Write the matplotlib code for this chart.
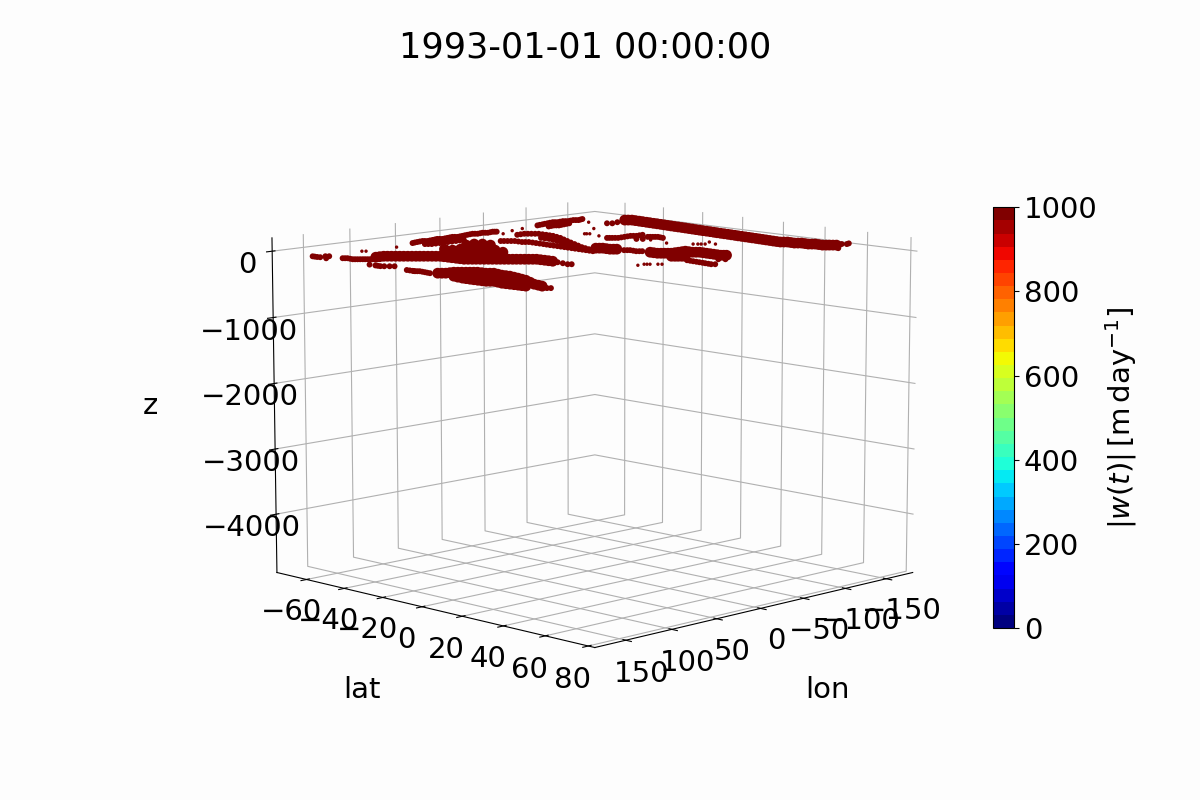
import matplotlib
matplotlib.use("Agg")
import matplotlib.pyplot as plt

# surface patches with |w| above the colour limit, read off the frame
# wide = thick bodies, narrow/streak = thin filaments, speck = isolated floats
wide_lon = [175.1, 170.7, 162.7, 158.3, 153.9, 149.7, 149.0, 144.6, 147.7, 147.1, 150.2, 153.9, 164.2, 167.1,
            177.5, 180.0, 180.0, 179.7, 179.0, 174.8, 177.7, 177.0, 176.2, 175.7,
            148.0, 139.8, 135.4, 130.8, 126.3, 121.7, 117.3, 112.7, 108.2, 107.6, 107.1, 106.7, 102.1, 97.7, 93.1,
            88.6, 84.2, 79.6, 75.2, 70.6, 66.2, 65.7, 65.3,
            62.0, 53.3, 52.9, 52.3, 56.4, 69.5, 74.1, 69.0, 76.5, 67.9, 47.6, 38.6, 33.9, 33.7,
            -158.8, -163.1, -162.3, -161.4, -160.5, -159.8, -158.8, -157.9, -157.4, -156.5, -155.6, -154.8, -154.3,
            -153.2, -152.6, -151.9, -151.0, -150.4, -149.7, -149.0, -148.2, -147.3, -146.8, -151.0, -150.1, -154.3,
            -153.5, -157.6, -156.8, -160.9, -164.9,
            -13.5, -17.6, -17.2, -21.2, -26.9, -26.7, -30.7, -34.6, -43.0, -51.4, -50.9, -54.9, -54.5, -54.2, -53.8,
            -57.1, -21.8, -25.6, -29.6,
            172.9, 166.7, 160.5, 156.1, 151.8, 149.3, 146.8, 146.2, 147.4, 148.7, 152.1, 159.0, 165.6,
            179.0, 180.0, 179.9, 179.4, 176.9, 176.2, 177.4, 176.6, 176.0,
            143.9, 137.6, 133.1, 128.6, 124.0, 119.5, 115.0, 110.5, 107.9, 107.4, 106.9, 104.4, 99.9, 95.4, 90.9,
            86.4, 81.9, 77.4, 72.9, 68.4, 66.0, 65.5,
            -161.0, -162.7, -161.9, -161.0, -160.2, -159.3, -158.4, -157.7, -157.0, -156.1, -155.2, -154.6, -153.8,
            -152.9, -152.3, -151.5, -150.7, -150.1, -149.4, -148.6, -147.8, -147.0, -148.9, -150.6, -152.2, -153.9,
            -155.6, -157.2, -158.9, -162.9,
            -15.6, -17.4, -19.2, -26.8, -28.7, -32.7, -38.8, -47.2, -51.2, -52.9, -54.7, -54.4, -54.0, -55.5, -23.7, -27.6,
            90.0, 85.5, 80.9, 68.1, 63.5, 67.2, 70.8, 77.0]
wide_lat = [5.3, 7.2, 7.4, 9.3, 11.2, 13.0, 16.7, 18.6, 23.9, 27.5, 32.8, 38.2, 46.7, 51.8,
            14.3, 19.7, 23.4, 27.0, 30.7, 32.5, 37.6, 41.1, 44.6, 48.0,
            -38.9, -38.8, -36.9, -34.9, -32.9, -30.9, -29.0, -27.0, -25.0, -21.3, -17.4, -13.6, -11.6, -9.7, -7.7,
            -5.7, -3.8, -1.8, 0.1, 2.1, 4.0, 7.7, 11.5,
            -30.9, -30.9, -27.0, -23.0, -17.2, -19.2, -21.2, -15.3, -33.5, -33.5, -39.9, -40.0, -37.9, -33.9,
            -49.8, -47.9, -43.8, -39.7, -35.7, -31.7, -27.7, -23.8, -19.9, -16.0, -12.1, -8.3, -4.4,
            -0.6, 3.2, 7.0, 10.7, 14.5, 18.1, 21.8, 25.4, 29.2, 32.8, 34.6, 38.2, 40.0,
            43.5, 45.2, 48.9, 50.6, 52.4,
            -1.9, -0.2, 3.5, 5.2, 19.0, 22.6, 24.3, 26.0, 26.0, 25.8, 29.4, 31.2, 34.7, 38.2, 41.7,
            43.1, 31.4, 33.1, 34.8,
            6.3, 7.3, 8.4, 10.3, 12.1, 14.9, 17.7, 21.3, 25.7, 30.2, 35.5, 42.5, 49.3,
            17.0, 21.5, 25.2, 28.9, 31.6, 35.0, 39.4, 42.9, 46.3,
            -38.9, -37.9, -35.9, -33.9, -31.9, -30.0, -28.0, -26.0, -23.2, -19.4, -15.5, -12.6, -10.7, -8.7, -6.7,
            -4.8, -2.8, -0.9, 1.1, 3.1, 5.9, 9.6,
            -48.9, -45.9, -41.8, -37.7, -33.7, -29.7, -25.8, -21.9, -18.0, -14.1, -10.2, -6.4, -2.5,
            1.3, 5.1, 8.9, 12.6, 16.3, 20.0, 23.6, 27.3, 31.0, 33.7, 36.4, 39.1, 41.8,
            44.4, 47.0, 49.8, 51.5,
            -1.0, 1.7, 4.4, 20.8, 23.5, 25.2, 26.0, 25.9, 27.6, 30.3, 33.0, 36.5, 40.0, 42.4, 32.3, 34.0,
            -28.1, -26.2, -24.2, -26.1, -24.1, -18.2, -12.5, -37.4]

narrow_lon = [170.6, 167.8, 168.9, 166.2, 163.2, 160.5, 157.7,
              180.0, 180.0, 180.0, 180.0, 178.2, 175.3, 172.6,
              66.6, 67.7, 69.0, 66.8,
              180.0, 180.0, 180.0, 177.5, 178.4, 179.3, 171.7, 169.6,
              180.0, 180.0, 180.0, 179.2, 172.6, 170.4, 180.0,
              69.9, 62.8, 55.6, 52.7, 45.2, 38.1, 35.1, 27.8, 20.5, 17.6, 10.2, 2.7, -4.9, -7.9, -15.2, -18.3, -26.0, -28.4,
              67.0, 63.0, 54.2, 45.2, 36.2, 27.1,
              -26.5, -35.3, -39.5, -43.7, -43.4, -42.8, -37.9, -28.2, -19.0, -9.9, -5.1,
              -26.7, -26.9, -22.3, -13.9, -5.3,
              10.4, 6.4, 2.2, 2.4, -1.6, -1.3, -1.1, -0.5, -0.4, 0.0, 0.2, 0.5, 0.7, 1.1,
              -81.1, -89.1, -97.0, -105.2, -108.2, -116.4, -119.5, -127.7, -130.8, -138.3,
              -82.9, -90.8, -93.9, -101.9, -110.0,
              -132.7, -135.8, -144.0, -152.4, -172.8, -175.7, -180.0, -151.9,
              -21.0, -24.5, -23.4, -26.9,
              -13.7, -12.8, -12.1, -11.2, -10.4, -12.6, -39.3, -35.3,
              -65.1, -68.1, -71.6, -79.8, -88.0, -91.5, -99.9, -93.5, -96.4, -99.4, -97.7, -77.6, -81.3]
narrow_lat = [-45.0, -43.8, -40.6, -39.4, -38.2, -37.0, -35.8,
              -26.5, -23.5, -22.3, -21.0, -19.9, -18.6, -17.4,
              14.5, 17.5, 20.4, 21.4,
              -7.7, -4.8, -3.6, -2.4, 0.6, 3.5, 56.1, 57.0,
              -56.0, -54.9, -53.6, -52.4, -53.0, -52.1, -48.9,
              -57.4, -58.3, -59.0, -57.7, -58.6, -59.5, -58.2, -59.0, -59.8, -58.5, -59.3, -60.2, -61.0, -59.7, -60.5, -59.1, -60.1, -59.1,
              -52.3, -50.6, -50.6, -50.6, -50.6, -50.7,
              -47.5, -47.8, -46.0, -44.1, -40.1, -36.3, -30.4, -22.6, -14.9, -7.3, -1.7,
              -35.3, -31.2, -25.1, -17.2, -9.3,
              -39.3, -37.6, -35.8, -32.0, -30.3, -26.5, -22.7, -19.0, -15.3, -11.6, -7.9, -4.2, -0.6, 3.0,
              -61.5, -62.4, -63.3, -64.2, -62.9, -63.8, -62.4, -63.3, -61.9, -63.1,
              -56.4, -57.2, -55.9, -56.8, -57.6,
              -47.8, -46.4, -47.3, -48.1, 51.8, 53.1, 52.4, 58.2,
              8.8, 10.3, 13.7, 15.2,
              42.2, 45.5, 48.7, 51.8, 54.9, 55.9, 49.8, 48.1,
              -18.6, -17.3, -15.8, -16.2, -16.6, -15.1, -15.6, -10.3, -9.0, -7.7, -4.5, -9.2, -7.6]

streak_lon = [66.4, 59.2, 54.2, 49.0, 41.7, 36.6, 31.5, 24.2, 19.0, 13.9, 6.5, -1.1, -6.4, -11.6, -16.8, -22.2, -27.2,
              65.0, 58.6, 49.7, 40.7, 31.7,
              -30.9, -37.4, -41.6, -43.6, -43.1, -40.4, -33.0, -23.6, -14.5, -7.5,
              -26.8, -24.6, -18.1, -9.6,
              8.4, 4.3, 2.3, 0.4, -1.5, -1.2, -0.8, -0.5, -0.2, 0.1, 0.4, 0.6, 0.9,
              -85.1, -93.0, -101.1, -106.7, -112.3, -118.0, -123.6, -129.3, -134.6,
              -86.9, -92.4, -97.9, -106.0,
              -66.6, -69.9, -75.7, -83.9, -89.8, -95.7, -95.0, -97.9, -98.6,
              169.2, 168.4, 167.6, 164.7, 161.9, 159.1,
              -22.8, -24.0, -25.2,
              -13.2, -12.5, -11.7, -10.8,
              180.0, 180.0, 178.8, 178.0, 178.9]
streak_lat = [-57.9, -58.7, -58.4, -58.2, -59.0, -58.9, -58.6, -59.4, -59.2, -58.9, -59.8, -60.6, -60.4, -60.1, -59.8, -59.6, -59.6,
              -51.5, -50.6, -50.6, -50.6, -50.7,
              -47.7, -46.9, -45.0, -42.1, -38.2, -33.4, -26.5, -18.8, -11.1, -4.5,
              -33.3, -28.2, -21.2, -13.3,
              -38.5, -36.7, -33.9, -31.2, -28.4, -24.6, -20.9, -17.2, -13.5, -9.8, -6.1, -2.4, 1.2,
              -62.0, -62.9, -63.8, -63.6, -63.4, -63.1, -62.9, -62.6, -62.5,
              -56.8, -56.6, -56.4, -57.2,
              -18.0, -16.6, -16.0, -16.4, -15.9, -15.4, -9.7, -8.4, -6.1,
              -44.4, -42.2, -40.0, -38.8, -37.6, -36.4,
              9.6, 12.0, 14.5,
              43.9, 47.1, 50.3, 53.4,
              -6.2, -4.2, -3.0, -0.9, 2.0]

speck_lon = [95.9, 132.1, 129.7, -22.9, -42.1, -57.6, -71.9, -73.7, -126.8, -132.7, -100.1, -70.6, -69.5,
             34.4, 26.7, 25.1, 23.4, 19.0, 16.8, -76.5, -81.3, -90.0, -91.9, -94.2, -100.1, -87.3, -105.8]
speck_lat = [-53.3, -53.9, -52.9, -53.2, -57.2, -58.9, -31.9, -31.1, -54.8, -61.1, -40.5, -32.4, -24.6,
             39.1, 38.8, 39.5, 40.2, 42.1, 43.1, 6.2, -3.7, 15.9, 16.7, 17.7, 20.3, 14.7, 15.0]

surface_z = 0
w_clip = 1000
lon_ticks = [-150, -100, -50, 0, 50, 100, 150]
lat_ticks = [-60, -40, -20, 0, 20, 40, 60, 80]
z_ticks = [-4000, -3000, -2000, -1000, 0]
cbar_ticks = [0, 200, 400, 600, 800, 1000]

bg = "#fdfdfd"
fs = 21

fig = plt.figure(figsize=(12, 8), dpi=100, facecolor=bg)
ax = fig.add_axes([0.059, 0.04, 0.8575, 0.88], projection="3d", facecolor=bg)
ax.view_init(elev=10, azim=45)

cmap = plt.get_cmap("jet", 32)
groups = [(wide_lon, wide_lat, 60), (narrow_lon, narrow_lat, 18), (streak_lon, streak_lat, 18),
          (speck_lon, speck_lat, 6)]
for lon, lat, size in groups:
    sc = ax.scatter(lon, lat, surface_z, c=[w_clip] * len(lon), cmap=cmap, vmin=0, vmax=1000,
                    s=size, linewidths=0, depthshade=False)

ax.set_xlim(-183, 183)
ax.set_ylim(-76, 83)
ax.set_zlim(-4900, 200)
ax.set_xticks(lon_ticks)
ax.set_yticks(lat_ticks)
ax.set_zticks(z_ticks)
ax.tick_params(axis="both", labelsize=fs)
ax.tick_params(axis="x", pad=4)
ax.tick_params(axis="y", pad=4)
ax.tick_params(axis="z", pad=2)
ax.set_xlabel("lon", fontsize=fs, labelpad=30)
ax.set_ylabel("lat", fontsize=fs, labelpad=30)
ax.set_zlabel("z", fontsize=fs, labelpad=30)

for axis in (ax.xaxis, ax.yaxis, ax.zaxis):
    axis.set_pane_color((1, 1, 1, 0))
    axis.pane.set_edgecolor("#e6e6e6")

cax = fig.add_axes([0.8275, 0.215, 0.0175, 0.526])
cb = fig.colorbar(sc, cax=cax)
cb.set_ticks(cbar_ticks)
cb.ax.tick_params(labelsize=fs)
cb.set_label(r"$|w(t)|\,[\mathrm{m}\,\mathrm{day}^{-1}]$", fontsize=fs, labelpad=4)

fig.text(585 / 1200, 1 - 47 / 800, "1993-01-01 00:00:00", fontsize=25.2, ha="center", va="center")

fig.savefig("out.png", dpi=100, facecolor=bg)
